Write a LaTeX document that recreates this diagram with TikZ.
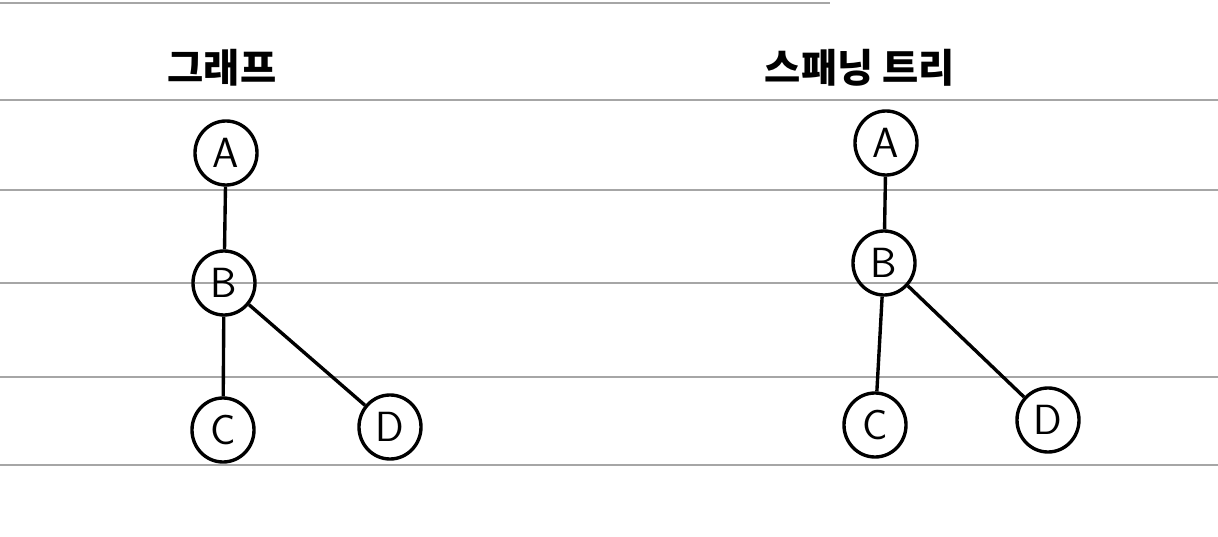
\documentclass[tikz,border=0pt]{standalone}
\usepackage{fontspec}
\newfontfamily\krfont{Noto Sans CJK KR}
\usetikzlibrary{positioning}
\tikzset{vertex/.style={ellipse,draw,line width=2.4pt,minimum width=1.55cm,minimum height=1.6cm,inner sep=0pt,font=\sffamily\fontsize{30}{30}\selectfont},
  edge/.style={line width=2.4pt},
  ruled/.style={gray!70,line width=1pt},
  title/.style={font=\krfont\bfseries\fontsize{28}{28}\selectfont}}
\usetikzlibrary{shapes.geometric}

\begin{document}
\begin{tikzpicture}[x=0.025cm,y=-0.025cm]
\useasboundingbox (0,0) rectangle (1218,537);
% ruled paper
\draw[ruled] (0,3) -- (830,3);
\foreach \yy in {100,190,283,377,465}
  \draw[ruled] (0,\yy) -- (1218,\yy);
% graph
\node[title] (gtitle) at (222,68) {그래프};
\node[vertex] (gA) at (226,153) {A};
\node[vertex] (gB) at (224,283) {B};
\node[vertex] (gC) at (223,430) {C};
\node[vertex] (gD) at (390,427) {D};
\draw[edge] (gA) -- (gB);
\draw[edge] (gB) -- (gC);
\draw[edge] (gB) -- (gD);
% spanning tree
\node[title] (ttitle) at (860,68) {스패닝 트리};
\node[vertex] (tA) at (886,143) {A};
\node[vertex] (tB) at (884,263) {B};
\node[vertex] (tC) at (875,425) {C};
\node[vertex] (tD) at (1048,420) {D};
\draw[edge] (tA) -- (tB);
\draw[edge] (tB) -- (tC);
\draw[edge] (tB) -- (tD);
\end{tikzpicture}
\end{document}
